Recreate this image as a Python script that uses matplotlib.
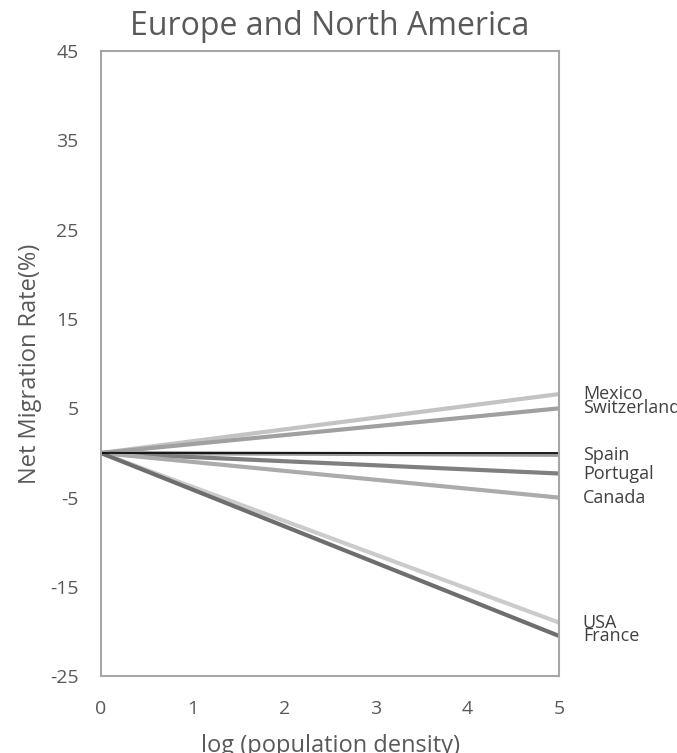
import matplotlib.pyplot as plt

# dados: pontos finais das linhas (todas começam em 0,0)
countries = ['Mexico', 'Switzerland', 'Spain', 'Portugal', 'Canada', 'USA', 'France']
end_values = [6.6, 5.0, -0.2, -2.3, -5.0, -19.0, -20.5]
line_colors = ['#c3c3c3', '#a0a0a0', '#9a9a9a', '#7f7f7f', '#ababab', '#cbcbcb', '#6e6e6e']
x_start, x_end = 0, 5

plt.rcParams['font.family'] = ['Open Sans', 'DejaVu Sans']
plt.rcParams['axes.unicode_minus'] = False

fig = plt.figure(figsize=(6.77, 7.53), dpi=100)
ax = fig.add_axes([0.149, 0.102, 0.677, 0.830])

for name, val, col in zip(countries, end_values, line_colors):
    ax.plot([x_start, x_end], [0, val], color=col, linewidth=3, solid_capstyle='butt')
    ax.annotate(name, xy=(x_end, val), xytext=(17, 0), textcoords='offset points',
                fontsize=13, color='#404040', va='center', ha='left', annotation_clip=False)

# linha preta fina em zero (Spain)
ax.plot([x_start, x_end], [0, 0], color='black', linewidth=1.2)

ax.set_xlim(0, 5)
ax.set_ylim(-25, 45)
ax.set_xticks(range(0, 6))
ax.set_yticks(range(-25, 46, 10))
ax.tick_params(length=0, labelsize=14, labelcolor='#595959')
ax.tick_params(axis='x', pad=17)
ax.tick_params(axis='y', pad=16)
for s in ax.spines.values():
    s.set_color('#a6a6a6')
    s.set_linewidth(1.5)

ax.set_xlabel('log (population density)', fontsize=17, color='#595959', labelpad=12)
ax.set_ylabel('Net Migration Rate(%)', fontsize=17, color='#595959', labelpad=6)
ax.set_title('Europe and North America', fontsize=23, color='#595959', pad=12)

fig.savefig('out.png', dpi=100)
